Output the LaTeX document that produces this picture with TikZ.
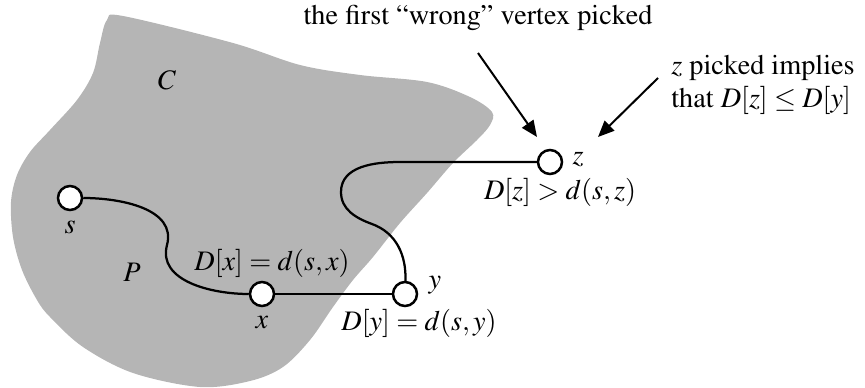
\documentclass[tikz,border=0pt]{standalone}
\usepackage[T1]{fontenc}
\usepackage{mathptmx}
\usepackage{tikz}
\usetikzlibrary{arrows.meta,positioning}
\definecolor{regiongray}{RGB}{181,181,181}

\begin{document}
\begin{tikzpicture}[x=0.4pt,y=0.4pt,font=\fontsize{11.3}{12}\selectfont,vertex/.style={draw,circle,fill=white,line width=1pt,inner sep=0pt,minimum size=9.6pt},pathline/.style={line width=0.9pt},pointer/.style={-{Triangle[length=6.5pt,width=5.5pt]},line width=0.8pt}]
\useasboundingbox (0,0) rectangle (865,387);
% the region C
\fill[regiongray] plot[smooth cycle,tension=0.55] coordinates {(107,367) (123,371) (233,344) (300,322) (360,312) (427,305) (470,290) (492,275) (490,262) (477,247) (453,224) (427,194) (400,164) (373,130) (353,107) (333,80) (310,47) (283,20) (250,6) (200,0) (133,14) (83,40) (50,70) (37,87) (22,117) (13,150) (11,185) (17,212) (30,235) (50,257) (77,287) (93,314) (100,344)};
\node(regC) at (167,307){$C$}; \node(pathP) at (132,115){$P$};
\node[vertex](s) at (70,189){}; \node[vertex](x) at (262,93){}; \node[vertex](y) at (405,93){}; \node[vertex](z) at (550,225){};
\node(slab) at (70,160){$s$}; \node(xlab) at (262,64){$x$}; \node(ylab) at (435,102){$y$}; \node(zlab) at (578,227){$z$};
\node(xdist) at (272,124){$D[x]=d(s,x)$}; \node(ydist) at (419,64){$D[y]=d(s,y)$}; \node(zdist) at (560,195){$D[z]>d(s,z)$};
\draw[pathline](s) to[out=0,in=75] (167,142) to[out=-105,in=180] (x);
\draw[pathline](x)--(y);
\draw[pathline](y) to[out=88,in=-20] (372,163) to[out=160,in=-90] (341,195) to[out=90,in=180] (400,225) -- (z);
% annotations
\node(wrong) at (478,369){the first ``wrong'' vertex picked};
\node[align=left](implies) at (763,302){$z$ picked implies\\[1pt]that $D[z]\le D[y]$};
\coordinate(wfrom) at (478,334); \coordinate(wto) at (537,250); \coordinate(ifrom) at (658,309); \coordinate(ito) at (598,250);
\draw[pointer](wfrom)--(wto); \draw[pointer](ifrom)--(ito);
\end{tikzpicture}
\end{document}
